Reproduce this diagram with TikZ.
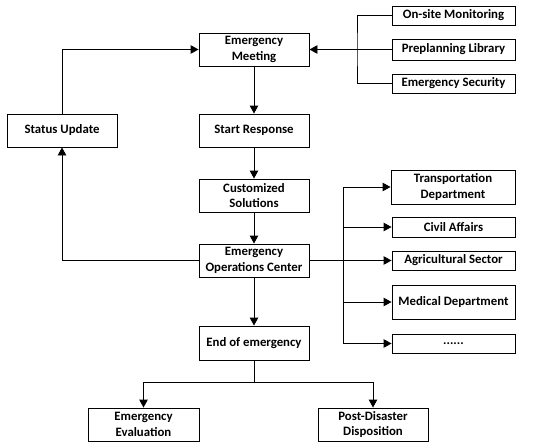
\documentclass[tikz,border=0pt]{standalone}
\usepackage{fontspec}
\setmainfont{Carlito}
\usetikzlibrary{arrows.meta}
\begin{document}
\begin{tikzpicture}[x=1pt,y=-1pt,
  box/.style={draw,line width=0.9pt,inner sep=0pt,align=center,font=\fontsize{12.8}{15.6}\selectfont\bfseries},
  bigbox/.style={box,minimum width=110pt,minimum height=33pt},
  sidebox/.style={box,minimum width=123pt,minimum height=19pt},
  line/.style={line width=0.9pt},
  arr/.style={line,-{Triangle[length=8pt,width=8.5pt]}}]
\fill[white] (0,0) rectangle (550,447);
\useasboundingbox (0,0) rectangle (550,447);
% main column
\node[bigbox] (meet) at (254,49.5) {Emergency\\Meeting};
\node[bigbox] (status) at (62,130.5) {Status Update};
\node[bigbox] (start) at (254,130.5) {Start Response};
\node[bigbox] (cust) at (254,195.5) {Customized\\Solutions};
\node[bigbox] (eoc) at (254,260.5) {Emergency\\Operations Center};
\node[bigbox,minimum height=34pt] (endE) at (254,343) {End of emergency};
\node[bigbox,minimum width=111pt] (eval) at (143.5,424.5) {Emergency\\Evaluation};
\node[bigbox] (post) at (373,424.5) {Post-Disaster\\Disposition};
% top right
\node[sidebox] (onsite) at (453.5,15.5) {On-site Monitoring};
\node[sidebox,minimum height=21pt] (prep) at (453.5,49.5) {Preplanning Library};
\node[sidebox] (sec) at (453.5,83.5) {Emergency Security};
% lower right
\node[sidebox,minimum width=124pt,minimum height=34pt] (trans) at (453,187) {Transportation\\Department};
\node[sidebox,minimum height=20pt] (civil) at (453.5,227) {Civil Affairs};
\node[sidebox] (agri) at (453.5,260.5) {Agricultural Sector};
\node[sidebox,minimum height=34pt] (med) at (453.5,302) {Medical Department};
\node[sidebox] (dots) at (453.5,343.5) {......};
% coordinates
\coordinate (b1) at (357,49.5);
\coordinate (b2) at (343,260.5);
\coordinate (j) at (254,382);
% connectors
\draw[arr] (meet) -- (start);
\draw[arr] (start) -- (cust);
\draw[arr] (cust) -- (eoc);
\draw[arr] (eoc) -- (endE);
\draw[arr] (status.north) |- (meet.west);
\draw[arr] (eoc.west) -| (status.south);
\draw[line] (onsite.west) -| (b1) |- (sec.west);
\draw[arr] (prep.west) -- (meet.east);
\draw[arr] (eoc.east) -- (agri.west);
\draw[arr] (b2) |- (trans.west);
\draw[arr] (b2) |- (civil.west);
\draw[arr] (b2) |- (med.west);
\draw[arr] (b2) |- (dots.west);
\draw[line] (endE.south) -- (j);
\draw[arr] (j) -| (eval.north);
\draw[arr] (j) -| (post.north);
\end{tikzpicture}
\end{document}
